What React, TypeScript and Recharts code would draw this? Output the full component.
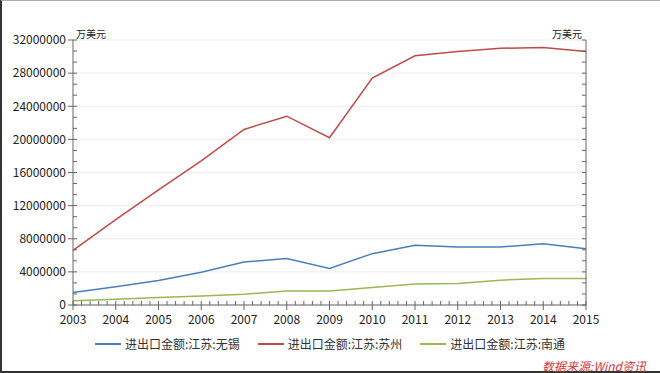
import { LineChart, Line, XAxis, YAxis, CartesianGrid, Legend } from 'recharts';

const years = ['2003', '2004', '2005', '2006', '2007', '2008', '2009', '2010', '2011', '2012', '2013', '2014', '2015'];
const wuxi = [1500000, 2200000, 2950000, 3950000, 5200000, 5600000, 4400000, 6200000, 7200000, 7000000, 7000000, 7400000, 6800000];
const suzhou = [6600000, 10300000, 13900000, 17400000, 21200000, 22800000, 20200000, 27400000, 30100000, 30600000, 31000000, 31100000, 30600000];
const nantong = [500000, 700000, 900000, 1100000, 1300000, 1700000, 1700000, 2100000, 2550000, 2600000, 3000000, 3200000, 3200000];

const SERIES = [
  { key: 'wuxi', name: '进出口金额:江苏:无锡', color: '#4a7ebb' },
  { key: 'suzhou', name: '进出口金额:江苏:苏州', color: '#be4b48' },
  { key: 'nantong', name: '进出口金额:江苏:南通', color: '#98b954' },
];

const yTicks = [0, 4000000, 8000000, 12000000, 16000000, 20000000, 24000000, 28000000, 32000000];
const yMinor = Array.from({ length: 25 }, (_, i) => (i * 4000000) / 3);
const xMinor = Array.from({ length: 61 }, (_, i) => i / 5);

const FONT = '"Noto Sans CJK SC", "Open Sans", sans-serif';
const AXIS = '#666';

const data = years.map((y, i) => ({ year: y, idx: i, wuxi: wuxi[i], suzhou: suzhou[i], nantong: nantong[i] }));

const unitLabel = (side: 'left' | 'right') => (props: any) => {
  const vb = props.viewBox;
  const x = side === 'left' ? vb.x + vb.width + 3 : vb.x - 4;
  return (
    <text x={x} y={vb.y - 2} fontSize={10} fill="#222" textAnchor={side === 'left' ? 'start' : 'end'} fontFamily={FONT}>
      万美元
    </text>
  );
};

function LegendContent() {
  return (
    <div style={{ display: 'flex', justifyContent: 'center', fontFamily: FONT, fontSize: 12, color: '#333' }}>
      {SERIES.map((s) => (
        <div key={s.key} style={{ display: 'flex', alignItems: 'center', margin: '0 9px' }}>
          <span style={{ display: 'inline-block', width: 26, height: 2, background: s.color, marginRight: 4 }} />
          {s.name}
        </div>
      ))}
    </div>
  );
}

export default function App() {
  return (
    <div style={{ position: 'absolute', left: 0, top: 0, width: 660, height: 373, background: '#fff', boxSizing: 'border-box', borderTop: '1px solid #aaa', borderLeft: '2px solid #333', borderBottom: '2px solid #333' }}>
      <div style={{ position: 'absolute', left: -2, top: -1 }}>
        <LineChart width={660} height={373} data={data} margin={{ top: 40, right: 0, left: 0, bottom: 12 }}>
          <CartesianGrid vertical={false} stroke="#ececec" yAxisId="left" xAxisId="main" />
          <XAxis xAxisId="main" dataKey="year" interval={0} height={30} tickSize={5} stroke={AXIS} tick={{ fill: '#222', fontSize: 12, fontFamily: FONT, dy: 3 }} />
          <XAxis xAxisId="minor" dataKey="idx" type="number" domain={[0, 12]} ticks={xMinor} interval={0} height={1} axisLine={false} tickFormatter={() => ''} tickSize={4} mirror stroke={AXIS} />
          <YAxis yAxisId="lminor" dataKey="suzhou" orientation="left" type="number" domain={[0, 32000000]} ticks={yMinor} interval={0} width={1} axisLine={false} tickFormatter={() => ''} tickSize={4} mirror stroke={AXIS} />
          <YAxis yAxisId="left" orientation="left" domain={[0, 32000000]} ticks={yTicks} width={73} tickSize={5} stroke={AXIS} interval={0} tick={{ fill: '#222', fontSize: 12, fontFamily: FONT }} label={unitLabel('left')} />
          <YAxis yAxisId="rminor" dataKey="suzhou" orientation="right" type="number" domain={[0, 32000000]} ticks={yMinor} interval={0} width={1} axisLine={false} tickFormatter={() => ''} tickSize={4} mirror stroke={AXIS} />
          <YAxis yAxisId="right" orientation="right" domain={[0, 32000000]} ticks={yTicks} width={74} tickSize={5} stroke={AXIS} interval={0} tick={{ fill: '#222', fontSize: 12, fontFamily: FONT }} label={unitLabel('right')} />
          <Legend verticalAlign="bottom" height={26} content={<LegendContent />} />
          {SERIES.map((s) => (
            <Line key={s.key} xAxisId="main" yAxisId="left" type="linear" dataKey={s.key} name={s.name} stroke={s.color} strokeWidth={1.5} dot={false} isAnimationActive={false} />
          ))}
        </LineChart>
      </div>
      <div style={{ position: 'absolute', right: 14, top: 356, color: '#d03a3a', fontStyle: 'italic', fontSize: 12, fontFamily: FONT }}>
        数据来源:Wind资讯
      </div>
    </div>
  );
}
